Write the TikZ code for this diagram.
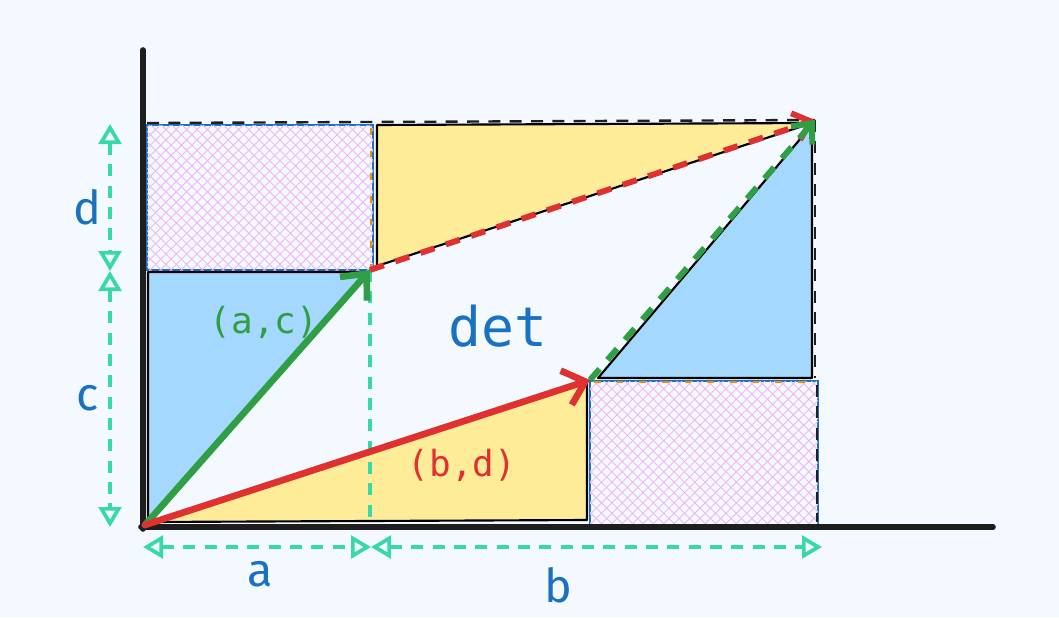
\documentclass[tikz,border=0pt]{standalone}
\usepackage{fontspec}
\setmainfont{Fira Sans}
\newfontfamily\monofnt{DejaVu Sans Mono}
\usetikzlibrary{arrows.meta,patterns.meta}
\definecolor{bgc}{HTML}{F4F9FF}
\definecolor{bluefill}{HTML}{A5D8FF}
\definecolor{yellowfill}{HTML}{FFEC99}
\definecolor{hatchc}{HTML}{EDB8F7}
\definecolor{tealc}{HTML}{38D9A9}
\definecolor{greenc}{HTML}{2F9E44}
\definecolor{redc}{HTML}{E03131}
\definecolor{lblue}{HTML}{1971C2}
\definecolor{orangec}{HTML}{F08C00}
\definecolor{inkc}{HTML}{1E1E1E}
\tikzset{
  axis/.style={draw=inkc,line width=4.2pt,line cap=round},
  tri/.style={draw=black,line width=1.6pt,line join=round},
  hatchbox/.style={draw=lblue,line width=1pt,
    postaction={pattern={Lines[angle=45,distance=5.5pt,line width=0.7pt]},pattern color=hatchc},
    postaction={pattern={Lines[angle=-45,distance=5.5pt,line width=0.7pt]},pattern color=hatchc}},
  vec/.style={line width=5pt,line cap=round,-{Straight Barb[length=15pt,width=27pt,line width=5pt]}},
  dvec/.style={line width=4.4pt,dash pattern=on 11pt off 9pt,-{Straight Barb[length=12pt,width=21pt,line width=4.4pt]}},
  dimline/.style={draw=tealc,line width=2.8pt,dash pattern=on 9pt off 7pt,
    {Triangle[open,length=15pt,width=17pt,line width=2.8pt]}-{Triangle[open,length=15pt,width=17pt,line width=2.8pt]}},
  guide/.style={draw=tealc,line width=2.8pt,dash pattern=on 9pt off 7pt},
  blk/.style={draw=inkc,line width=1.8pt,dash pattern=on 9pt off 7pt},
  odash/.style={draw=orangec,line width=2.2pt,dash pattern=on 5pt off 12pt},
  dimlbl/.style={text=lblue,font=\fontsize{35}{40}\selectfont},
  veclbl/.style={font=\monofnt\fontsize{27}{32}\selectfont}
}
\begin{document}
\begin{tikzpicture}[x=0.75pt,y=-0.75pt]
\fill[bgc] (0,0) rectangle (1059,617);
\useasboundingbox (0,0) rectangle (1059,617);
% key points
\coordinate (O) at (145,525);
\coordinate (A) at (370,270);
\coordinate (B) at (590,380);
\coordinate (S) at (815,120);
% filled regions
\path[hatchbox] (147,125) rectangle (373,270);
\path[hatchbox] (590,381) rectangle (818,525);
\draw[odash] (371,128) -- (371,268);
\draw[odash] (594,382) -- (816,382);
\draw[blk,line width=1pt] (817,385) -- (817,522);
\draw[tri,fill=bluefill] (148,272) -- (366,272) -- (148,522) -- cycle;
\draw[tri,fill=yellowfill] (377,125) -- (812,123) -- (377,266) -- cycle;
\draw[tri,fill=bluefill] (598,378) -- (812,378) -- (812,125) -- cycle;
\draw[tri,fill=yellowfill] (150,522) -- (587,520) -- (587,382) -- cycle;
% dashed frame
\draw[blk] (147,123) -- (S);
\draw[blk] (S) -- (815,378);
% guide
\draw[guide] (A) -- (370,527);
% axes
\coordinate (Ytop) at (143,50);
\coordinate (Ybot) at (143,529);
\coordinate (Xl) at (141,527);
\coordinate (Xr) at (993,527);
\path[axis] (Ytop) -- (Ybot);
\path[axis] (Xl) -- (Xr);
% vectors
\draw[dvec,redc] (A) -- (S);
\draw[dvec,greenc] (B) -- (S);
\draw[vec,greenc] (O) -- (A);
\draw[vec,redc] (O) -- (B);
% dimension lines
\coordinate (D1) at (110,124);
\coordinate (D2) at (110,271);
\coordinate (D3) at (110,527);
\coordinate (H1) at (143,547);
\coordinate (H2) at (371,547);
\coordinate (H3) at (822,547);
\path[dimline] (D1) -- (D2);
\path[dimline] (D2) -- (D3);
\path[dimline] (H1) -- (H2);
\path[dimline] (H2) -- (H3);
% labels
\node[dimlbl] (ld) at (87,207) {d};
\node[dimlbl] (lc) at (88,398) {c};
\node[dimlbl] (la) at (260,574) {a};
\node[dimlbl] (lb) at (558,585) {b};
\node[text=lblue,font=\monofnt\fontsize{41}{46}\selectfont] (ldet) at (498,326) {det};
\node[veclbl,text=greenc] (lac) at (264,322) {(a,c)};
\node[veclbl,text=redc] (lbd) at (462,465) {(b,d)};
\end{tikzpicture}
\end{document}
